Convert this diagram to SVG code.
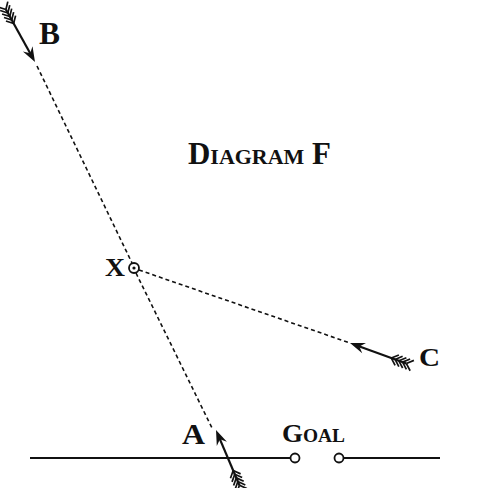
<svg xmlns="http://www.w3.org/2000/svg" width="484" height="488" viewBox="0 0 484 488">
<style>
.dash{stroke:#111;stroke-width:1.6;stroke-dasharray:4 3;fill:none}
.ln{stroke:#111;stroke-width:2;fill:none}
.t{font-family:"Liberation Serif","DejaVu Serif",serif;fill:#111;font-weight:bold}
</style>
<defs>
<g id="arrow">
<line x1="-60" y1="0" x2="-8" y2="0" stroke="#111" stroke-width="2.2"/>
<polygon points="0,0 -15,-5.5 -10,0 -15,5.5" fill="#111"/>
<g stroke="#111" stroke-width="1.7">
<line x1="-60" y1="0" x2="-66" y2="-5.5"/><line x1="-60" y1="0" x2="-66" y2="5.5"/>
<line x1="-56" y1="0" x2="-62" y2="-5.5"/><line x1="-56" y1="0" x2="-62" y2="5.5"/>
<line x1="-52" y1="0" x2="-58" y2="-5.5"/><line x1="-52" y1="0" x2="-58" y2="5.5"/>
<line x1="-48" y1="0" x2="-54" y2="-5.5"/><line x1="-48" y1="0" x2="-54" y2="5.5"/>
<line x1="-44" y1="0" x2="-50" y2="-5.5"/><line x1="-44" y1="0" x2="-50" y2="5.5"/>
</g>
</g>
</defs>
<rect width="484" height="488" fill="#fff"/>
<g id="connectors">
<line class="dash" x1="37" y1="66" x2="132" y2="263"/>
<line class="dash" x1="136" y1="273" x2="213" y2="430"/>
<line class="dash" x1="139" y1="270" x2="350" y2="343"/>
</g>
<g id="ground">
<line class="ln" x1="30" y1="458" x2="290" y2="458"/>
<circle cx="295" cy="458" r="4.5" fill="#fff" stroke="#111" stroke-width="1.8"/>
<circle cx="339" cy="458" r="4.5" fill="#fff" stroke="#111" stroke-width="1.8"/>
<line class="ln" x1="344" y1="458" x2="440" y2="458"/>
</g>
<g id="arrowB"><use href="#arrow" transform="translate(35,62) rotate(61)"/></g>
<g id="arrowA"><use href="#arrow" transform="translate(216,430) rotate(247)"/></g>
<g id="arrowC"><use href="#arrow" transform="translate(350,343) rotate(200)"/></g>
<g id="nodeX">
<circle cx="134" cy="268" r="5" fill="#fff" stroke="#111" stroke-width="1.8"/>
<circle cx="134" cy="268" r="1.6" fill="#111"/>
<text class="t" x="105" y="276" font-size="26" textLength="20" lengthAdjust="spacingAndGlyphs">X</text>
</g>
<g id="labels">
<text class="t" x="39" y="44" font-size="31" textLength="21" lengthAdjust="spacingAndGlyphs">B</text>
<text class="t" x="182" y="444" font-size="29" textLength="23" lengthAdjust="spacingAndGlyphs">A</text>
<text class="t" x="419" y="366" font-size="26" textLength="21" lengthAdjust="spacingAndGlyphs">C</text>
<text class="t" x="282" y="442" font-size="25" textLength="63" lengthAdjust="spacingAndGlyphs">G<tspan font-size="18">OAL</tspan></text>
<text class="t" x="188" y="164" font-size="31" textLength="143" lengthAdjust="spacingAndGlyphs">D<tspan font-size="22">IAGRAM</tspan> F</text>
</g>
</svg>
